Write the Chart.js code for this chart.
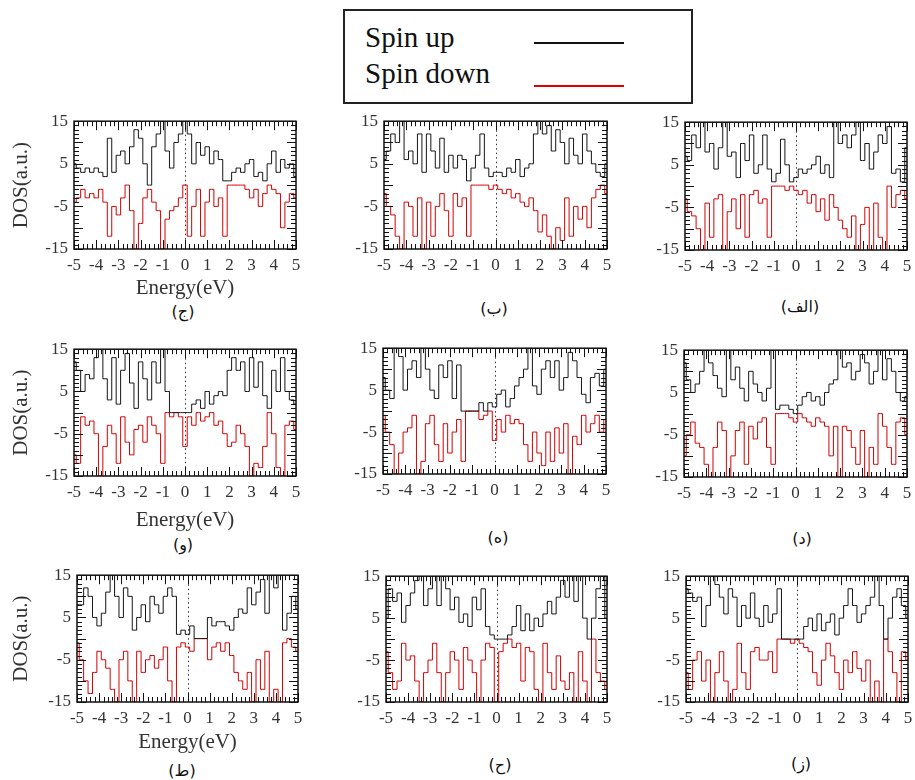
<!DOCTYPE html>
<html>
<head>
<meta charset="utf-8">
<script src="https://cdn.jsdelivr.net/npm/chart.js@4.4.1/dist/chart.umd.min.js"></script>
<style>
  body { margin: 0; background: #fff; }
  #page { position: relative; width: 915px; height: 780px; overflow: hidden; }
  .panel { position: absolute; }
  .cap { position: absolute; font: 16px 'DejaVu Sans', sans-serif; color: #111; transform: translate(-50%, -50%); white-space: nowrap; }
  #key { position: absolute; left: 343px; top: 9px; width: 350px; height: 95px; box-sizing: border-box; border: 2px solid #222; }
  .keytxt { position: absolute; font: 29px 'Liberation Serif', 'Times New Roman', serif; line-height: 29px; color: #111; }
  .keyline { position: absolute; width: 90px; height: 0; border-top: 2px solid; }
</style>
</head>
<body>
<div id="page">
  <div id="key"></div>
  <div class="keytxt" style="left:365px;top:23px">Spin up</div>
  <div class="keytxt" style="left:365px;top:59px">Spin down</div>
  <div class="keyline" style="left:534px;top:42px;border-color:#111"></div>
  <div class="keyline" style="left:534px;top:85px;border-color:#e00000"></div>
</div>
<script>
// energy grid (eV), shared by every panel
const energy = [-5.0,-4.8,-4.6,-4.4,-4.2,-4.0,-3.8,-3.6,-3.4,-3.2,-3.0,-2.8,-2.6,-2.4,-2.2,-2.0,-1.8,-1.6,-1.4,-1.2,-1.0,-0.8,-0.6,-0.4,-0.2,0.0,0.2,0.4,0.6,0.8,1.0,1.2,1.4,1.6,1.8,2.0,2.2,2.4,2.6,2.8,3.0,3.2,3.4,3.6,3.8,4.0,4.2,4.4,4.6,4.8,5.0];
const xTicks = [-5,-4,-3,-2,-1,0,1,2,3,4,5];
const yTicks = [-15,-10,-5,0,5,10,15];

// spin up / spin down DOS
const jimUp    = [5,4,3,4,3,4,3,2,11,3,7,8,5,9,13,11,5,0,9,12,15,8,4,10,12,15,12,5,10,7,9,5,8,6,1,1,3,4,3,5,6,2,3,1,5,8,3,6,4,5,2];
const jimDown  = [-4,-3,-1,-3,-2,-3,-1,-4,-12,-5,-7,-3,0,-6,-15,-9,-3,-1,-4,-6,-15,-8,-6,-5,-3,0,-12,-5,-1,-12,-4,-1,-5,-3,-12,0,0,0,0,-1,-3,-1,-5,-2,0,-1,-2,-10,-4,-2,-3];
const beUp     = [6,8,12,10,15,6,8,5,12,3,12,8,4,11,3,7,4,7,6,1,4,7,12,4,2,3,3,2,4,3,6,2,4,5,12,15,12,14,8,13,10,5,11,7,5,12,8,5,3,2,5];
const beDown   = [-2,-5,-7,-12,-15,-4,-5,-12,-3,-15,-4,-12,-5,-2,-6,-12,-2,-5,-3,-12,0,0,0,0,-1,0,-1,-2,-1,-3,-2,-4,-5,-3,-6,-11,-7,-12,-15,-10,-13,-3,-12,-5,-8,-5,-10,-3,-1,0,-2];
const alefUp   = [7,6,12,9,15,8,10,4,9,15,7,8,2,10,6,12,3,5,12,4,1,3,11,5,1,2,4,3,4,5,7,3,5,2,15,10,12,9,12,15,6,10,4,8,12,10,14,3,4,1,9];
const alefDown = [-3,-6,-7,-10,-15,-4,-12,-3,-2,-15,-6,-3,-10,-2,-12,-2,-1,-4,-3,-12,0,0,0,-1,0,-1,-2,-1,-4,-2,-6,-3,-8,-2,-5,-8,-10,-12,-7,-15,-9,-5,-15,-4,-12,-15,0,-5,-2,-1,-3];
const vavUp    = [12,10,5,9,8,13,15,8,3,13,2,10,14,7,1,12,8,3,12,7,15,5,0,0,0,0,0,2,3,1,5,2,4,5,4,10,13,10,12,5,13,6,12,4,1,10,5,13,5,3,2];
const vavDown  = [-10,-12,-1,-3,-2,-5,-15,-8,-3,-5,-12,-1,-7,-10,-4,-3,-7,-1,-3,-5,-12,0,-1,0,-1,-8,-1,-3,0,-2,-1,0,-3,-2,-5,-8,-7,-3,-5,-8,-15,-12,-13,-8,0,-5,-13,-15,-3,-2,-4];
const heUp     = [8,5,3,15,13,5,10,12,8,15,10,5,3,11,8,12,3,11,0,0,0,0,2,0,2,1,4,5,1,3,6,8,10,15,6,4,10,12,8,12,5,8,14,12,8,4,2,8,9,6,10];
const heDown   = [-1,-5,-8,-15,-10,-5,-4,-1,-15,-12,-3,-1,-8,-12,-3,-10,-5,-2,-12,0,0,0,-2,-1,0,-7,-2,-5,-1,-3,-2,-3,-8,-12,-5,-10,-13,-5,-12,-4,-10,-3,-15,-6,-8,-1,-5,-3,-1,-5,-2];
const dalUp    = [12,8,5,7,10,15,12,9,6,4,15,8,11,6,3,10,7,5,3,6,15,1,2,2,1,0,2,4,5,3,4,2,5,7,8,15,11,12,8,10,14,12,7,10,15,8,13,10,5,3,4];
const dalDown  = [-10,-5,-2,-7,-8,-12,-15,-8,-2,-4,-15,-10,-4,-2,-12,-3,-6,-2,-1,-8,-12,0,0,0,-1,-2,0,-1,-2,-3,-1,-2,-3,-10,-3,-15,-3,-4,-8,-12,-4,-15,-8,-12,0,-3,-8,-12,-2,-1,-5];
const taUp     = [8,8,12,10,5,3,6,11,15,10,5,12,10,2,5,8,4,10,8,6,10,12,10,1,2,1,3,0,0,0,5,3,4,4,3,2,5,7,6,12,8,11,14,6,15,12,15,2,6,10,7];
const taDown   = [-1,-5,-10,-13,-8,-3,-5,-7,-12,-15,-5,-3,-10,-15,-3,-8,-5,-4,-7,-5,-2,-10,-15,-2,-1,-2,-3,0,0,0,-5,-2,-1,-3,-1,-4,-8,-10,-12,-8,-15,-5,-12,-3,-15,-12,-15,-1,0,-2,-3];
const hethUp   = [5,12,9,11,4,8,11,14,15,8,12,15,8,15,12,7,10,4,6,3,10,7,12,3,1,0,0,0,1,3,8,2,6,2,5,3,6,9,6,10,14,10,15,9,15,5,0,5,12,15,5];
const hethDown = [-3,-8,-12,-10,-1,-5,-4,-10,-15,-8,-5,-1,-8,-15,-8,-3,-5,-12,-2,-5,-8,-15,-5,-1,-2,-15,-3,-1,0,-2,-1,-10,-2,-3,-12,-15,-1,-8,-12,-4,-10,-12,-8,-15,-3,-10,-15,0,-8,-10,-12];
const zaynUp   = [12,11,9,10,3,8,15,13,10,6,12,10,3,8,5,11,5,3,8,4,6,12,0,0,0,0,0,3,5,2,6,2,4,6,1,5,8,12,8,4,6,8,10,15,8,0,5,10,12,8,5];
const zaynDown = [-8,-12,-5,-3,-10,-5,-15,-8,-3,-10,-15,-12,-1,-8,-12,-3,-2,-5,-5,-3,-8,0,0,0,-1,0,-1,-2,-3,-8,-11,-5,-1,-4,-8,-12,-5,-8,-3,-7,-10,-5,-15,-10,-15,0,-3,-8,-15,-3,-5];

const captions = ['(ج)', '(ب)', '(الف)', '(و)', '(ه)', '(د)', '(ط)', '(ح)', '(ز)'];
const upSeries   = [jimUp, beUp, alefUp, vavUp, heUp, dalUp, taUp, hethUp, zaynUp];
const downSeries = [jimDown, beDown, alefDown, vavDown, heDown, dalDown, taDown, hethDown, zaynDown];

// plot boxes on the page: left, top, right, bottom, x-axis band height, caption centre
const boxes = [
  {l: 74,  t: 115, r: 296, b: 249, xh: 52, cx: 183, cy: 311},
  {l: 384, t: 115, r: 607, b: 249, xh: 30, cx: 494, cy: 308},
  {l: 685, t: 116, r: 907, b: 250, xh: 30, cx: 800, cy: 306},
  {l: 74,  t: 343, r: 296, b: 476, xh: 57, cx: 183, cy: 544},
  {l: 383, t: 342, r: 606, b: 474, xh: 30, cx: 498, cy: 537},
  {l: 684, t: 344, r: 907, b: 477, xh: 30, cx: 802, cy: 538},
  {l: 77,  t: 569, r: 298, b: 702, xh: 53, cx: 182, cy: 770},
  {l: 386, t: 570, r: 607, b: 702, xh: 30, cx: 500, cy: 764},
  {l: 686, t: 570, r: 908, b: 702, xh: 30, cx: 801, cy: 763}
];

const serif = "'Liberation Serif', 'Times New Roman', serif";

// gnuplot style frame: inward ticks on all four sides + dotted Fermi line
const frameTicks = {
  id: 'frameTicks',
  beforeDatasetsDraw(chart) {
    const {ctx, chartArea: a, scales: {x}} = chart;
    const px = Math.round(x.getPixelForValue(0)) + 0.5;
    ctx.save();
    ctx.strokeStyle = '#333';
    ctx.lineWidth = 1;
    ctx.setLineDash([1.5, 3]);
    ctx.beginPath();
    ctx.moveTo(px, a.top);
    ctx.lineTo(px, a.bottom);
    ctx.stroke();
    ctx.restore();
  },
  afterDatasetsDraw(chart) {
    const {ctx, chartArea: a, scales: {x, y}} = chart;
    ctx.save();
    ctx.strokeStyle = '#111';
    ctx.lineWidth = 1;
    ctx.beginPath();
    for (let i = 0; i <= 50; i++) {
      const px = Math.round(x.getPixelForValue(-5 + i * 0.2)) + 0.5;
      const len = i % 5 === 0 ? 9 : 5;
      ctx.moveTo(px, a.top); ctx.lineTo(px, a.top + len);
      ctx.moveTo(px, a.bottom); ctx.lineTo(px, a.bottom - len);
    }
    for (let v = -15; v <= 15; v++) {
      const py = Math.round(y.getPixelForValue(v)) + 0.5;
      const len = v % 5 === 0 ? 9 : 5;
      ctx.moveTo(a.left, py); ctx.lineTo(a.left + len, py);
      ctx.moveTo(a.right, py); ctx.lineTo(a.right - len, py);
    }
    ctx.stroke();
    ctx.lineWidth = 1.5;
    ctx.strokeRect(a.left, a.top, a.right - a.left, a.bottom - a.top);
    ctx.restore();
  }
};

const page = document.getElementById('page');

boxes.forEach((f, i) => {
  const firstCol = i % 3 === 0;
  const padL = firstCol ? f.l : 50;
  const w = (f.r - f.l) + padL + 12;
  const h = (f.b - f.t) + 10 + f.xh;

  const div = document.createElement('div');
  div.className = 'panel';
  div.style.left = (f.l - padL) + 'px';
  div.style.top = (f.t - 10) + 'px';
  const canvas = document.createElement('canvas');
  canvas.width = w;
  canvas.height = h;
  div.appendChild(canvas);
  page.appendChild(div);

  const cap = document.createElement('div');
  cap.className = 'cap';
  cap.style.left = f.cx + 'px';
  cap.style.top = f.cy + 'px';
  cap.textContent = captions[i];
  page.appendChild(cap);

  new Chart(canvas, {
    type: 'line',
    data: {
      datasets: [
        {
          label: 'Spin up',
          data: energy.map((e, k) => ({x: e, y: upSeries[i][k]})),
          borderColor: '#151515',
          borderWidth: 1,
          pointRadius: 0,
          stepped: 'middle'
        },
        {
          label: 'Spin down',
          data: energy.map((e, k) => ({x: e, y: downSeries[i][k]})),
          borderColor: '#d40000',
          borderWidth: 1,
          pointRadius: 0,
          stepped: 'middle'
        }
      ]
    },
    options: {
      responsive: false,
      animation: false,
      devicePixelRatio: 1,
      layout: {padding: {top: 10, right: 12, left: 0, bottom: 0}},
      plugins: {legend: {display: false}, tooltip: {enabled: false}},
      scales: {
        x: {
          type: 'linear',
          min: -5,
          max: 5,
          afterBuildTicks: s => { s.ticks = xTicks.map(v => ({value: v})); },
          ticks: {autoSkip: false, maxRotation: 0, padding: 6, color: '#333', font: {family: serif, size: 17}},
          grid: {display: false, drawTicks: false},
          border: {display: false},
          title: {display: firstCol, text: 'Energy(eV)', color: '#333', padding: 0, font: {family: serif, size: 21}},
          afterFit: s => { s.height = f.xh; }
        },
        y: {
          min: -15,
          max: 15,
          afterBuildTicks: s => { s.ticks = yTicks.map(v => ({value: v})); },
          ticks: {padding: 6, color: '#333', font: {family: serif, size: 17}},
          grid: {display: false, drawTicks: false},
          border: {display: false},
          title: {display: firstCol, text: 'DOS(a.u.)', color: '#333', padding: {top: 9, bottom: 0}, font: {family: serif, size: 21}},
          afterFit: s => { s.width = padL; }
        }
      }
    },
    plugins: [frameTicks]
  });
});
</script>
</body>
</html>
